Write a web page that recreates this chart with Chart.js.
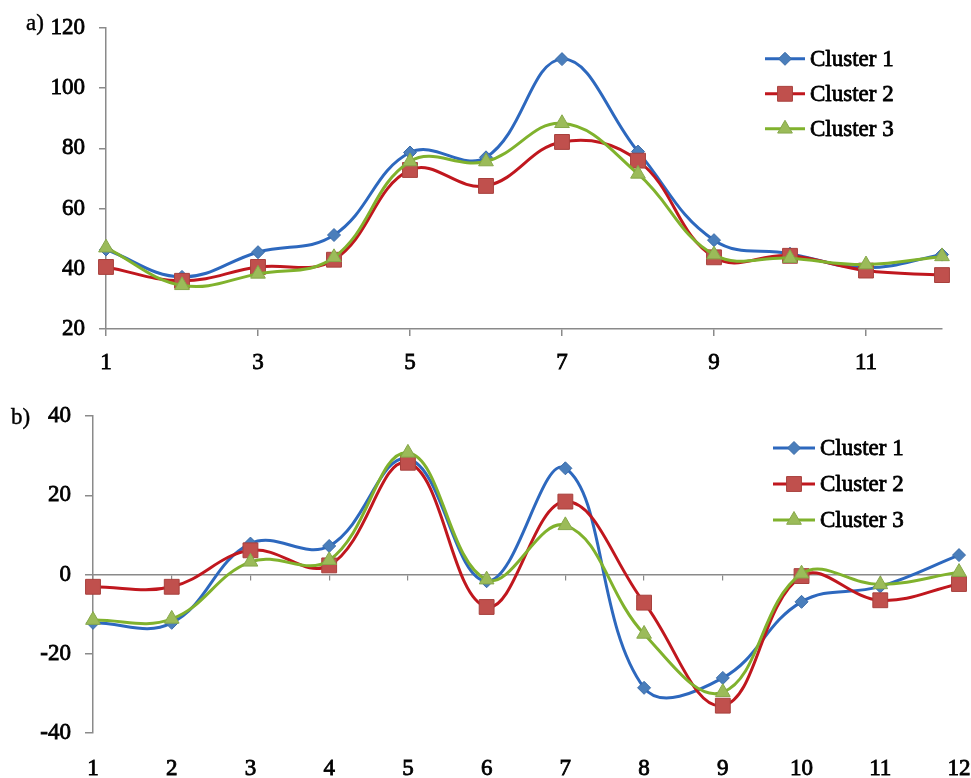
<!DOCTYPE html>
<html><head><meta charset="utf-8">
<script src="https://cdn.jsdelivr.net/npm/chart.js@4.4.0/dist/chart.umd.min.js"></script>
<style>
html,body{margin:0;padding:0;background:#fff;width:971px;height:778px;overflow:hidden}
#wrapA{position:absolute;left:0;top:0;width:971px;height:388px}
#wrapB{position:absolute;left:0;top:388px;width:971px;height:390px}
.tag{position:absolute;font-family:'Liberation Serif';font-size:23px;color:#000;line-height:1;-webkit-text-stroke:0.4px #000}
</style></head><body>
<div id="wrapA"><canvas id="cA"></canvas></div>
<div id="wrapB"><canvas id="cB"></canvas></div>
<div class="tag" style="left:26px;top:11px">a)</div>
<div class="tag" style="left:11px;top:405px">b)</div>
<script>
// ---- data ----
const categories = ['1','2','3','4','5','6','7','8','9','10','11','12'];
const topXShown = ['1','3','5','7','9','11'];
const seriesNames = ['Cluster 1','Cluster 2','Cluster 3'];
const topC1 = [46.4, 37.3, 45.5, 51.2, 78.6, 77.0, 109.6, 78.9, 49.5, 45.0, 40.3, 44.7];
const topC2 = [40.6, 36.0, 40.6, 43.0, 72.8, 67.5, 82.1, 75.9, 43.8, 44.3, 39.4, 37.9];
const topC3 = [47.0, 34.5, 38.3, 43.8, 75.6, 75.6, 88.3, 71.5, 44.7, 43.5, 41.4, 44.1];
const botC1 = [-12.2, -12.2, 7.8, 7.2, 29.2, -1.7, 26.8, -28.6, -26.1, -6.9, -3.0, 4.9];
const botC2 = [-3.1, -3.1, 6.1, 2.3, 28.2, -8.2, 18.4, -7.1, -33.1, -0.4, -6.5, -2.4];
const botC3 = [-11.5, -11.2, 3.2, 3.6, 30.7, -1.3, 12.4, -15.0, -29.7, 0.2, -2.5, 0.6];
const topYTicks = [20, 40, 60, 80, 100, 120];
const botYTicks = [-40, -20, 0, 20, 40];

// ---- styles ----
const FONT = 'Liberation Serif';
const AXIS = '#8a8a8a';
const styles = [
  {line:'#2D68BE', fill:'#4A7EBB', border:'#3A6BA8', pointStyle:'rectRot', radius:6.5, order:2},
  {line:'#C0171E', fill:'#C0504D', border:'#A8403D', pointStyle:'rect', radius:10.5, order:1},
  {line:'#80B22D', fill:'#9BBB59', border:'#86A84A', pointStyle:'triangle', radius:8.5, order:0}
];

function makeDatasets(arrs){
  return arrs.map((d,i)=>({
    label: seriesNames[i], data: d,
    borderColor: styles[i].line, borderWidth: 3,
    pointBackgroundColor: styles[i].fill, pointBorderColor: styles[i].border, pointBorderWidth: 1,
    pointStyle: styles[i].pointStyle, pointRadius: styles[i].radius, pointHoverRadius: styles[i].radius,
    tension: 0.4, fill: false, clip: false, order: styles[i].order
  }));
}

const insideLegend = {
  id: 'insideLegend',
  afterDraw(chart, args, opts){
    const ctx = chart.ctx, a = chart.chartArea;
    const x0 = a.right - opts.dx, y0 = a.top + opts.dy;
    chart.data.datasets.forEach((ds, i) => {
      const y = y0 + i * opts.gap;
      ctx.save();
      ctx.strokeStyle = ds.borderColor; ctx.lineWidth = ds.borderWidth;
      ctx.beginPath(); ctx.moveTo(x0, y); ctx.lineTo(x0 + opts.len, y); ctx.stroke();
      ctx.fillStyle = ds.pointBackgroundColor; ctx.strokeStyle = ds.pointBorderColor; ctx.lineWidth = 1;
      Chart.helpers.drawPoint(ctx, {pointStyle: ds.pointStyle, radius: ds.pointRadius, rotation: 0, borderWidth: 1}, x0 + opts.len / 2, y);
      ctx.font = opts.fontSize + 'px "' + FONT + '"';
      ctx.textBaseline = 'middle'; ctx.textAlign = 'left';
      ctx.strokeStyle = '#000'; ctx.lineWidth = 0.8; ctx.lineJoin = 'round';
      ctx.strokeText(ds.label, x0 + opts.len + opts.textGap, y + 1);
      ctx.fillStyle = '#000';
      ctx.fillText(ds.label, x0 + opts.len + opts.textGap, y + 1);
      ctx.restore();
    });
  }
};

const tickFont = {family: FONT, size: 23};
const noPad = (s) => { s.paddingLeft = 0; s.paddingRight = 0; };

new Chart(document.getElementById('cA'), {
  type: 'line',
  data: {labels: categories, datasets: makeDatasets([topC1, topC2, topC3])},
  plugins: [insideLegend],
  options: {
    responsive: true, maintainAspectRatio: false, animation: false,
    layout: {padding: {left: 0, right: 29, top: 22, bottom: 0}},
    plugins: {legend: {display: false}, tooltip: {enabled: false},
      insideLegend: {dx: 177, dy: 31, gap: 35, len: 40, textGap: 5, fontSize: 23}},
    scales: {
      x: {
        type: 'category', offset: false,
        afterFit(s){ s.height = 59; noPad(s); },
        border: {display: true, color: AXIS, width: 1.5},
        grid: {drawOnChartArea: false, tickLength: 7, lineWidth: 1.5,
          color: (c) => (c.index % 2 === 0 ? AXIS : 'rgba(0,0,0,0)')},
        ticks: {autoSkip: false, maxRotation: 0, padding: 13, color: '#000', font: tickFont,
          textStrokeColor: '#000', textStrokeWidth: 0.8,
          callback(v, i){ const l = categories[i]; return topXShown.includes(l) ? l : ''; }}
      },
      y: {
        min: topYTicks[0], max: topYTicks[topYTicks.length - 1],
        afterFit(s){ s.width = 106; },
        border: {display: true, color: AXIS, width: 1.5},
        grid: {drawOnChartArea: false, tickLength: 7, color: AXIS, lineWidth: 1.5},
        ticks: {stepSize: topYTicks[1] - topYTicks[0], padding: 14, color: '#000', font: tickFont,
          textStrokeColor: '#000', textStrokeWidth: 0.8}
      }
    }
  }
});

new Chart(document.getElementById('cB'), {
  type: 'line',
  data: {labels: categories, datasets: makeDatasets([botC1, botC2, botC3])},
  plugins: [insideLegend],
  options: {
    responsive: true, maintainAspectRatio: false, animation: false,
    layout: {padding: {left: 0, right: 12, top: 28, bottom: 0}},
    plugins: {legend: {display: false}, tooltip: {enabled: false},
      insideLegend: {dx: 186, dy: 32, gap: 36, len: 42, textGap: 5, fontSize: 23}},
    scales: {
      x: {
        type: 'category', position: 'bottom', offset: false,
        afterFit(s){ s.height = 45; noPad(s); },
        border: {display: false},
        grid: {display: false, drawTicks: false},
        ticks: {autoSkip: false, maxRotation: 0, padding: 22, color: '#000', font: tickFont,
          textStrokeColor: '#000', textStrokeWidth: 0.8}
      },
      x2: {
        type: 'category', axis: 'x', position: {y: 0}, offset: false,
        afterFit(s){ s.height = 0; noPad(s); },
        border: {display: true, color: AXIS, width: 1.5},
        grid: {drawOnChartArea: false, tickLength: 5, color: AXIS, lineWidth: 1.2},
        ticks: {display: false}
      },
      y: {
        min: botYTicks[0], max: botYTicks[botYTicks.length - 1],
        afterFit(s){ s.width = 93; },
        border: {display: true, color: AXIS, width: 1.5},
        grid: {drawOnChartArea: false, tickLength: 8, color: AXIS, lineWidth: 1.5},
        ticks: {stepSize: botYTicks[1] - botYTicks[0], padding: 14, color: '#000', font: tickFont,
          textStrokeColor: '#000', textStrokeWidth: 0.8}
      }
    }
  }
});
</script>
</body></html>
